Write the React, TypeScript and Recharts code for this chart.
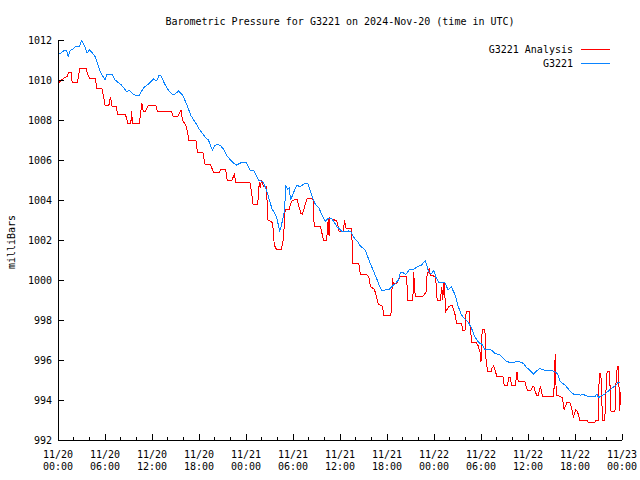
import { LineChart, Line, XAxis, YAxis, Legend } from "recharts";

const MONO = "'DejaVu Sans Mono', 'Liberation Mono', monospace";
const RED = "#ff0000";
const BLUE = "#0a84ff";

// hours after 11/20 00:00 UTC
const analysisHours = [
  0, 0.4, 0.8, 1.2, 1.4, 1.7, 1.8, 2.5, 2.6, 2.8, 3.6, 3.7, 4, 4.8, 4.9, 5.6, 5.8, 6, 6.5, 6.7, 6.9, 7.4, 7.6, 8.6,
  8.9, 9.3, 9.4, 9.5, 10.4, 10.7, 10.9, 11.2, 11.5, 12.5, 12.7, 13.7, 13.9, 14.5, 14.7, 15.3, 15.7, 15.9, 16.4,
  16.7, 17.6, 17.8, 18.5, 18.8, 19.4, 19.9, 20.6, 20.8, 21.4, 21.6, 22.2, 22.5, 22.7, 24.5, 24.7, 24.9, 25.5, 25.7,
  25.8, 26, 26.2, 26.6, 26.8, 27.3, 27.5, 27.6, 27.9, 28.5, 28.7, 28.9, 29, 29.5, 29.8, 30.3, 30.5, 31, 31.2, 31.8,
  32.4, 32.6, 32.7, 33.5, 33.9, 34.3, 34.5, 34.6, 34.7, 35.6, 35.9, 36.4, 36.6, 36.7, 37.5, 37.6, 38.4, 38.6, 39.4,
  39.7, 39.9, 40.4, 40.9, 41.4, 41.6, 42.5, 42.7, 42.8, 43.3, 43.7, 44.5, 44.65, 45.3, 45.4, 45.6, 46.6, 47, 47.1,
  47.4, 47.5, 48.2, 48.4, 48.8, 49, 49.1, 49.3, 49.5, 49.9, 50.3, 50.7, 50.9, 51.5, 51.7, 52, 52.1, 52.5, 52.6,
  52.75, 52.85, 53.4, 53.6, 53.9, 54, 54.05, 54.1, 54.2, 54.5, 54.6, 54.7, 54.9, 55.3, 55.4, 55.6, 55.8, 56, 56.8,
  56.95, 57.4, 57.5, 57.7, 57.9, 58.4, 58.6, 58.75, 59.6, 59.9, 60.4, 60.6, 60.75, 60.85, 61.1, 61.3, 61.6, 61.85,
  63.2, 63.35, 63.4, 63.5, 63.6, 64.1, 64.4, 64.6, 65, 65.4, 65.8, 66.1, 66.3, 66.6, 67.5, 67.7, 68.5, 68.65, 68.95,
  69.1, 69.3, 69.45, 69.5, 69.8, 70, 70.1, 70.4, 70.6, 71.1, 71.25, 71.4, 71.55, 71.7, 71.85,
];
const analysisMb = [
  1009.8, 1010.0, 1010.1, 1010.2, 1010.4, 1010.4, 1009.9, 1009.9, 1010.2, 1010.6, 1010.6, 1010.4, 1010.1, 1010.1,
  1009.6, 1009.6, 1009.2, 1008.75, 1008.75, 1009.15, 1008.7, 1008.7, 1008.3, 1008.3, 1007.85, 1007.85, 1008.45,
  1007.85, 1007.85, 1008.85, 1008.4, 1008.45, 1008.72, 1008.72, 1008.42, 1008.42, 1008.45, 1008.45, 1008.17,
  1008.17, 1008.5, 1008.0, 1007.67, 1007.0, 1007.0, 1006.38, 1006.35, 1005.75, 1005.8, 1005.37, 1005.37, 1005.53,
  1005.53, 1005.0, 1005.0, 1005.27, 1004.88, 1004.88, 1004.42, 1003.8, 1003.8, 1004.92, 1004.6, 1005.0, 1004.7,
  1004.7, 1003.0, 1002.92, 1002.5, 1001.75, 1001.53, 1001.53, 1001.83, 1002.75, 1003.53, 1003.53, 1003.92,
  1004.05, 1004.05, 1003.33, 1003.3, 1004.08, 1004.08, 1004.0, 1002.67, 1002.67, 1002.0, 1002.0, 1003.08,
  1002.2, 1003.1, 1002.95, 1002.42, 1002.42, 1003.0, 1002.6, 1002.58, 1000.83, 1000.83, 1000.3, 1000.3, 1000.1,
  999.67, 999.53, 998.78, 998.7, 998.25, 998.25, 1000.08, 999.8, 999.85, 1000.17, 1000.17, 999.0, 999.0,
  1000.42, 999.2, 999.2, 999.4, 1000.17, 1000.62, 1000.25, 1000.17, 999.0, 999.0, 999.67, 999.0, 999.92,
  998.42, 998.67, 998.75, 998.25, 997.83, 997.83, 997.47, 997.5, 998.42, 998.42, 997.75, 997.17, 996.87,
  996.87, 996.75, 996.37, 995.9, 996.6, 997.17, 997.53, 997.53, 996.25, 995.75, 995.42, 995.42, 995.58, 995.7,
  995.5, 995.2, 995.2, 994.75, 994.75, 995.1, 995.13, 994.75, 994.75, 995.42, 994.92, 994.92, 994.5, 994.5,
  994.67, 994.7, 994.5, 994.25, 994.25, 994.67, 994.17, 994.17, 994.67, 995.75, 996.3, 994.25, 994.17, 994.1,
  993.53, 993.9, 993.85, 993.17, 993.5, 993.45, 993.0, 993.0, 992.87, 992.87, 993.0, 993.0, 995.33, 995.33,
  993.67, 993.0, 993.0, 994.9, 995.42, 995.42, 993.42, 993.42, 995.0, 995.67, 995.67, 993.47, 994.4,
];

const stationHours = [
  0, 0.7, 1.1, 1.3, 1.5, 2, 2.3, 2.7, 3, 3.2, 3.5, 3.7, 4, 4.3, 4.7, 5, 5.4, 5.7, 6, 6.2, 6.6, 6.9, 7.3, 8.1, 8.5,
  8.8, 9.1, 9.6, 10, 10.4, 10.9, 11.4, 12.2, 12.6, 12.9, 13.1, 13.5, 13.9, 14.3, 14.7, 15.1, 15.4, 15.9, 16.3,
  16.6, 17, 17.5, 18.1, 18.5, 18.9, 19.2, 19.5, 19.7, 20, 20.3, 20.8, 21.2, 21.5, 22, 22.4, 22.8, 23.3, 24, 24.5,
  25, 25.6, 26.2, 26.5, 26.8, 27.3, 27.9, 28.1, 28.3, 28.5, 28.9, 29.1, 29.3, 29.5, 29.7, 30.1, 30.5, 30.9, 31.2,
  31.5, 31.9, 32.1, 32.6, 32.9, 33.3, 33.7, 34.1, 34.5, 35, 35.6, 36.2, 36.6, 37.1, 37.4, 37.7, 38.2, 38.6, 39.2,
  39.5, 39.8, 40.3, 40.6, 41, 41.3, 41.8, 42.3, 42.7, 43.1, 43.5, 43.7, 44.1, 44.4, 44.9, 45.3, 45.9, 46.4, 46.9,
  47.1, 47.3, 47.6, 48, 48.2, 48.6, 49.4, 49.8, 50.2, 50.7, 51.1, 51.5, 51.9, 52.4, 52.8, 53.2, 53.7, 54.1, 54.5,
  54.9, 55.3, 55.8, 56.4, 57.3, 57.8, 58.4, 58.9, 59.4, 59.8, 60.2, 60.7, 61.1, 61.5, 62, 62.9, 63.4, 63.8, 64.1,
  64.7, 65.1, 65.4, 65.8, 66.5, 66.7, 66.9, 67.5, 68.3, 68.6, 68.8, 69, 69.8, 70.5, 71.1, 71.5, 71.8,
];
const stationMb = [
  1011.25, 1011.45, 1011.5, 1011.17, 1011.45, 1011.58, 1011.7, 1011.65, 1011.95, 1011.85, 1011.6, 1011.35,
  1011.5, 1011.4, 1011.2, 1010.9, 1010.4, 1010.2, 1010.0, 1010.25, 1010.3, 1010.3, 1010.0, 1009.75, 1009.55,
  1009.4, 1009.5, 1009.3, 1009.2, 1009.25, 1009.6, 1009.75, 1010.05, 1009.95, 1010.25, 1010.25, 1009.9, 1009.6,
  1009.4, 1009.25, 1009.35, 1009.45, 1009.25, 1008.9, 1008.6, 1008.2, 1007.9, 1007.5, 1007.3, 1007.1, 1007.0,
  1006.7, 1006.5, 1006.7, 1006.8, 1006.7, 1006.5, 1006.25, 1006.0, 1005.85, 1005.75, 1005.85, 1005.9, 1005.5,
  1005.45, 1005.0, 1004.9, 1004.6, 1004.25, 1003.58, 1003.17, 1002.8, 1002.42, 1002.7, 1003.42, 1004.7, 1004.55,
  1004.6, 1004.0, 1004.4, 1004.75, 1004.65, 1004.75, 1004.83, 1004.83, 1004.6, 1004.0, 1003.75, 1003.6, 1003.25,
  1002.92, 1003.08, 1003.05, 1002.67, 1002.45, 1002.4, 1002.45, 1002.42, 1002.15, 1001.95, 1001.7, 1001.5,
  1001.2, 1000.9, 1000.42, 1000.15, 999.75, 999.47, 999.5, 999.53, 999.7, 999.83, 1000.03, 1000.37, 1000.35,
  1000.27, 1000.53, 1000.5, 1000.67, 1000.75, 1000.97, 1000.7, 1000.42, 1000.3, 1000.47, 1000.17, 999.87,
  999.87, 999.5, 999.67, 999.25, 998.67, 998.25, 998.08, 997.87, 997.58, 997.17, 996.87, 996.8, 996.53, 996.55,
  996.5, 996.33, 996.25, 995.92, 995.87, 995.9, 995.92, 995.83, 995.63, 995.5, 995.3, 995.45, 995.58, 995.5,
  995.5, 995.42, 995.3, 994.92, 994.75, 994.58, 994.42, 994.3, 994.3, 994.22, 994.3, 994.2, 994.2, 994.2, 994.3,
  994.12, 994.3, 994.53, 994.7, 994.87, 994.9,
];

const hourTicks = [0, 2, 4, 6, 8, 10, 12, 14, 16, 18, 20, 22, 24, 26, 28, 30, 32, 34, 36, 38, 40, 42, 44, 46, 48, 50, 52, 54, 56, 58, 60, 62, 64, 66, 68, 70, 72];
const dayLabels = ["11/20", "11/20", "11/20", "11/20", "11/21", "11/21", "11/21", "11/21", "11/22", "11/22", "11/22", "11/22", "11/23"];
const timeLabels = ["00:00", "06:00", "12:00", "18:00", "00:00", "06:00", "12:00", "18:00", "00:00", "06:00", "12:00", "18:00", "00:00"];
const mbTicks = [992, 994, 996, 998, 1000, 1002, 1004, 1006, 1008, 1010, 1012];
const seriesNames = ["G3221 Analysis", "G3221"];
const seriesColors = [RED, BLUE];

const analysis = analysisHours.map((t, i) => ({ t, mb: analysisMb[i] }));
const station = stationHours.map((t, i) => ({ t, mb: stationMb[i] }));

const txt = { fontFamily: MONO, fontSize: 10, fill: "#000" };

function BottomTick({ x, y, payload }: any) {
  const h = payload.value;
  const major = h % 6 === 0;
  const i = h / 6;
  return (
    <g>
      <line x1={x} x2={x} y1={y} y2={y - (major ? 6 : 3)} stroke="#000" />
      {major && (
        <text x={x} y={y} textAnchor="middle" {...txt}>
          <tspan x={x} dy={18}>{dayLabels[i]}</tspan>
          <tspan x={x} dy={11.5}>{timeLabels[i]}</tspan>
        </text>
      )}
    </g>
  );
}

function TopTick({ x, y, payload }: any) {
  const major = payload.value % 6 === 0;
  return <line x1={x} x2={x} y1={y} y2={y + (major ? 6 : 3)} stroke="#000" />;
}

function LeftTick({ x, y, payload }: any) {
  return (
    <g>
      <line x1={x} x2={x + 6} y1={y} y2={y} stroke="#000" />
      <text x={x - 6} y={y} dy={3.6} textAnchor="end" {...txt}>{payload.value}</text>
    </g>
  );
}

function RightTick({ x, y }: any) {
  return <line x1={x} x2={x - 6} y1={y} y2={y} stroke="#000" />;
}

// gnuplot-style key: right-aligned label, then a short sample of the line
function KeyBox() {
  return (
    <div style={{ fontFamily: MONO, fontSize: 10, color: "#000" }}>
      {seriesNames.map((name, i) => (
        <div key={name} style={{ display: "flex", alignItems: "center", justifyContent: "flex-end", height: 14 }}>
          <span>{name}</span>
          <svg width={29} height={5} style={{ marginLeft: 8, display: "block" }}>
            <path d="M0,2.5H29" style={{ stroke: seriesColors[i], strokeWidth: 1, fill: "none" }} />
          </svg>
        </div>
      ))}
    </div>
  );
}

export default function App() {
  return (
    <div style={{ position: "absolute", left: 0, top: 0, width: 640, height: 480, background: "#fff", shapeRendering: "crispEdges" }}>
      <div style={{ position: "absolute", left: 0, top: 16, width: 680, textAlign: "center", fontFamily: MONO, fontSize: 10, lineHeight: "12px" }}>
        Barometric Pressure for G3221 on 2024-Nov-20 (time in UTC)
      </div>
      <div style={{ position: "absolute", left: -38, top: 236, width: 100, height: 12, lineHeight: "12px", textAlign: "center", fontFamily: MONO, fontSize: 10, transform: "rotate(-90deg)" }}>
        milliBars
      </div>
      <LineChart width={640} height={480} margin={{ top: 40, right: 18, bottom: 0, left: 0 }}>
        <XAxis dataKey="t" type="number" domain={[0, 72]} ticks={hourTicks} interval={0} height={40}
          tickSize={0} tickMargin={0} tickLine={false} tick={<BottomTick />} axisLine={{ stroke: "#000" }} allowDataOverflow />
        <XAxis xAxisId="top" orientation="top" dataKey="t" type="number" domain={[0, 72]} ticks={hourTicks} interval={0} height={0}
          tickSize={0} tickMargin={0} tickLine={false} tick={<TopTick />} axisLine={{ stroke: "#000" }} allowDataOverflow />
        <YAxis type="number" domain={[992, 1012]} ticks={mbTicks} interval={0} width={58}
          tickSize={0} tickMargin={0} tickLine={false} tick={<LeftTick />} axisLine={{ stroke: "#000" }} allowDataOverflow />
        <YAxis yAxisId="right" orientation="right" type="number" domain={[992, 1012]} ticks={mbTicks} interval={0} width={0}
          tickSize={0} tickMargin={0} tickLine={false} tick={<RightTick />} axisLine={{ stroke: "#000" }} allowDataOverflow />
        <Legend layout="vertical" align="center" verticalAlign="middle" content={<KeyBox />}
          wrapperStyle={{ position: "absolute", left: 0, top: 42, width: 610 }} />
        <Line data={analysis} dataKey="mb" name="G3221 Analysis" type="linear" stroke={RED} strokeWidth={1}
          dot={false} activeDot={false} isAnimationActive={false} />
        <Line data={station} dataKey="mb" name="G3221" type="linear" stroke={BLUE} strokeWidth={1}
          dot={false} activeDot={false} isAnimationActive={false} />
      </LineChart>
    </div>
  );
}
